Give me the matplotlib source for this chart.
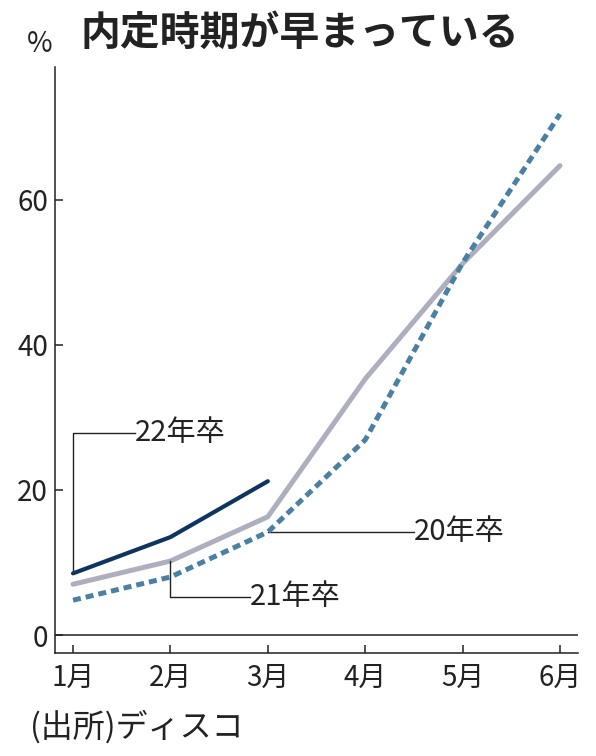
import matplotlib
matplotlib.use("Agg")
import matplotlib.pyplot as plt

plt.rcParams['font.family'] = ['Noto Sans CJK JP', 'DejaVu Sans']

months = ['1月', '2月', '3月', '4月', '5月', '6月']
grad22 = [8.5, 13.5, 21.2]
grad20 = [7.0, 10.2, 16.3, 35.3, 51.2, 64.7]
grad21 = [4.8, 8.0, 14.2, 26.9, 51.3, 71.8]
yticks = [0, 20, 40, 60]

x = list(range(1, len(months) + 1))

fig = plt.figure(figsize=(5.96, 7.56), dpi=100)
ax = fig.add_axes([0.0923, 0.1362, 0.8775, 0.7752])

ax.axhline(0, color='#222222', lw=1.1, zorder=1)
ax.plot(x, grad20, color='#adafbf', lw=3.6, solid_capstyle='round', zorder=2)
ax.plot(x, grad21, color='#4a80a3', lw=3.6, linestyle=(0, (1.6, 1.0)), zorder=3)
ax.plot(x[:len(grad22)], grad22, color='#0d3560', lw=3.0, solid_capstyle='round', zorder=4)

ax.set_xlim(0.815, 6.185)
ax.set_ylim(-2.48, 78.3)
ax.set_xticks(x)
ax.set_xticklabels(months)
ax.set_yticks(yticks)
for s in ['top', 'right']:
    ax.spines[s].set_visible(False)
for s in ['left', 'bottom']:
    ax.spines[s].set_linewidth(1.1)
    ax.spines[s].set_color('#222222')
ax.tick_params(axis='both', direction='in', length=6, width=1.1, color='#222222',
               labelsize=20, labelcolor='#222222')
ax.tick_params(axis='x', pad=7)
ax.tick_params(axis='y', pad=5)

# leader lines + labels
lc = dict(color='#222222', lw=1.0)
ax.plot([1, 1, 1.64], [grad22[0], 27.8, 27.8], **lc)
ax.text(1.64, 27.8, '22年卒', fontsize=21, va='center', ha='left', color='#222222')
ax.plot([2, 2, 2.82], [grad20[1], 5.2, 5.2], **lc)
ax.text(2.82, 5.2, '21年卒', fontsize=21, va='center', ha='left', color='#222222')
ax.plot([3, 4.5], [grad21[2], grad21[2]], **lc)
ax.text(4.5, grad21[2], '20年卒', fontsize=21, va='center', ha='left', color='#222222')

fig.text(80 / 596, 1 - 33 / 756, '内定時期が早まっている', fontsize=28.7, fontweight='bold',
         ha='left', va='center', color='#222222')
fig.text(40 / 596, 1 - 44 / 756, '%', fontsize=20, ha='center', va='center', color='#222222')
fig.text(30 / 596, 1 - 727 / 756, '(出所)ディスコ', fontsize=23, ha='left', va='center',
         color='#222222')

fig.savefig('out.png', dpi=100)
